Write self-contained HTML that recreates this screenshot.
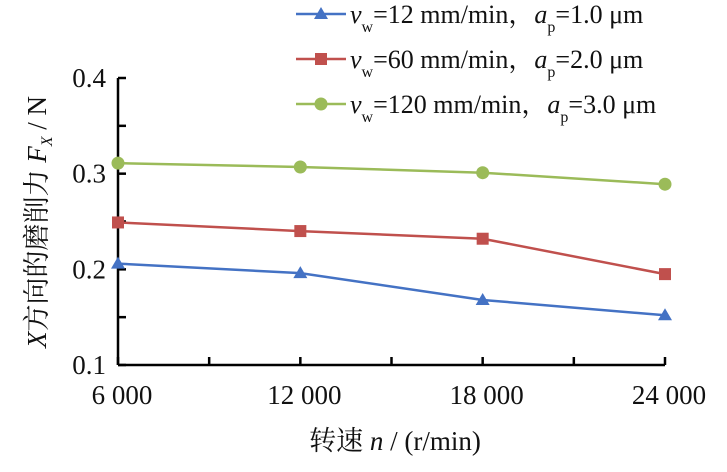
<!DOCTYPE html>
<html><head><meta charset="utf-8"><style>
html,body{margin:0;padding:0;background:#fff;}
svg{display:block;font-family:"Liberation Serif","Noto Serif CJK SC",serif;}
</style></head><body>
<svg id="chart" width="727" height="472" viewBox="0 0 727 472">
<g id="axes"></g>
<g id="series"></g>
<g id="legend"></g>
<text x="395" y="450" text-anchor="middle" font-size="27" fill="#111">转速 <tspan font-style="italic">n</tspan> / (r/min)</text>
<text transform="translate(46,222) rotate(-90)" text-anchor="middle" font-size="27" fill="#111"><tspan font-style="italic">X</tspan>方向的磨削力 <tspan font-style="italic">F</tspan><tspan font-style="italic" font-size="16" dy="6">X</tspan><tspan dy="-6"> / N</tspan></text>
</svg>
<script>
const categories=[6000,12000,18000,24000];
const xTickLabels=["6 000","12 000","18 000","24 000"];
const yTicks=[0.1,0.2,0.3,0.4];
const yTickLabels=["0.1","0.2","0.3","0.4"];
const seriesBlue=[0.206,0.196,0.168,0.152];
const seriesRed=[0.249,0.240,0.232,0.195];
const seriesGreen=[0.311,0.307,0.301,0.289];
const NS="http://www.w3.org/2000/svg";
const X0=118,X1=665,Y0=365,Y1=78;
function xs(v){return X0+(v-6000)/(24000-6000)*(X1-X0);}
function ys(v){return Y0-(v-0.1)/(0.4-0.1)*(Y0-Y1);}
function mk(tag,attrs,parent){const e=document.createElementNS(NS,tag);for(const k in attrs)e.setAttribute(k,attrs[k]);parent.appendChild(e);return e;}
const axes=document.getElementById('axes');
let a=mk('line',{x1:X0,y1:Y1,x2:X0,y2:Y0,stroke:'#000','stroke-width':2.5},axes);


a=mk('line',{x1:X0,y1:Y0,x2:X1,y2:Y0,stroke:'#000','stroke-width':2.5},axes);


yTicks.forEach((t,i)=>{
  const y=ys(t);
  const l=mk('line',{x1:X0,y1:y,x2:X0+8,y2:y,stroke:'#000','stroke-width':2.5},axes);
  
  
  if(i<yTicks.length-1){const ym=ys((t+yTicks[i+1])/2);
    const m=mk('line',{x1:X0,y1:ym,x2:X0+8,y2:ym,stroke:'#000','stroke-width':2.5},axes);
    
    }
  const tx=mk('text',{x:106,y:y+9,'text-anchor':'end','font-size':27,fill:'#111'},axes);
  tx.textContent=yTickLabels[i];
  
  
});
categories.forEach((c,i)=>{
  const x=xs(c);
  const l=mk('line',{x1:x,y1:Y0,x2:x,y2:Y0-8,stroke:'#000','stroke-width':2.5},axes);
  
  
  if(i<categories.length-1){const xm=xs((c+categories[i+1])/2);
    const m=mk('line',{x1:xm,y1:Y0,x2:xm,y2:Y0-8,stroke:'#000','stroke-width':2.5},axes);
    
    }
  const tx=mk('text',{x:x+4,y:404,'text-anchor':'middle','font-size':27,fill:'#111'},axes);
  tx.textContent=xTickLabels[i];
  
  
});
function marker(g,type,x,y,color){
  let e;
  if(type==='tri')e=mk('polygon',{points:`${x},${y-7} ${x-7},${y+5} ${x+7},${y+5}`,fill:color},g);
  else if(type==='sq')e=mk('rect',{x:x-6,y:y-6,width:12,height:12,fill:color},g);
  else e=mk('circle',{cx:x,cy:y,r:6.5,fill:color},g);
  return e;
}
const defs=[["blue",seriesBlue,"#4472c4","tri","12","1.0"],["red",seriesRed,"#c0504d","sq","60","2.0"],["green",seriesGreen,"#9bbb59","circ","120","3.0"]];
const sg=document.getElementById('series');
const lg=document.getElementById('legend');
defs.forEach((d,k)=>{
  const g=mk('g',{},sg);
  
  
  const pts=d[1].map((v,i)=>xs(categories[i])+','+ys(v)).join(' ');
  const pl=mk('polyline',{points:pts,fill:'none',stroke:d[2],'stroke-width':2.5},g);
  
  
  d[1].forEach((v,i)=>{
    const m=marker(g,d[3],xs(categories[i]),ys(v),d[2]);
    
    
  });
  const ly=14+k*45;
  const e=mk('g',{},lg);
  
  
  mk('line',{x1:296,y1:ly,x2:346,y2:ly,stroke:d[2],'stroke-width':2.5},e);
  marker(e,d[3],321,ly,d[2]);
  const t=mk('text',{x:350,y:ly+9,'font-size':26,fill:'#111'},e);
  t.innerHTML=`<tspan font-style="italic">v</tspan><tspan font-size="16" dy="9">w</tspan><tspan dy="-9">=${d[4]} mm/min，</tspan><tspan font-style="italic">a</tspan><tspan font-size="16" dy="9">p</tspan><tspan dy="-9">=${d[5]} μm</tspan>`;
});
</script>
</body></html>
